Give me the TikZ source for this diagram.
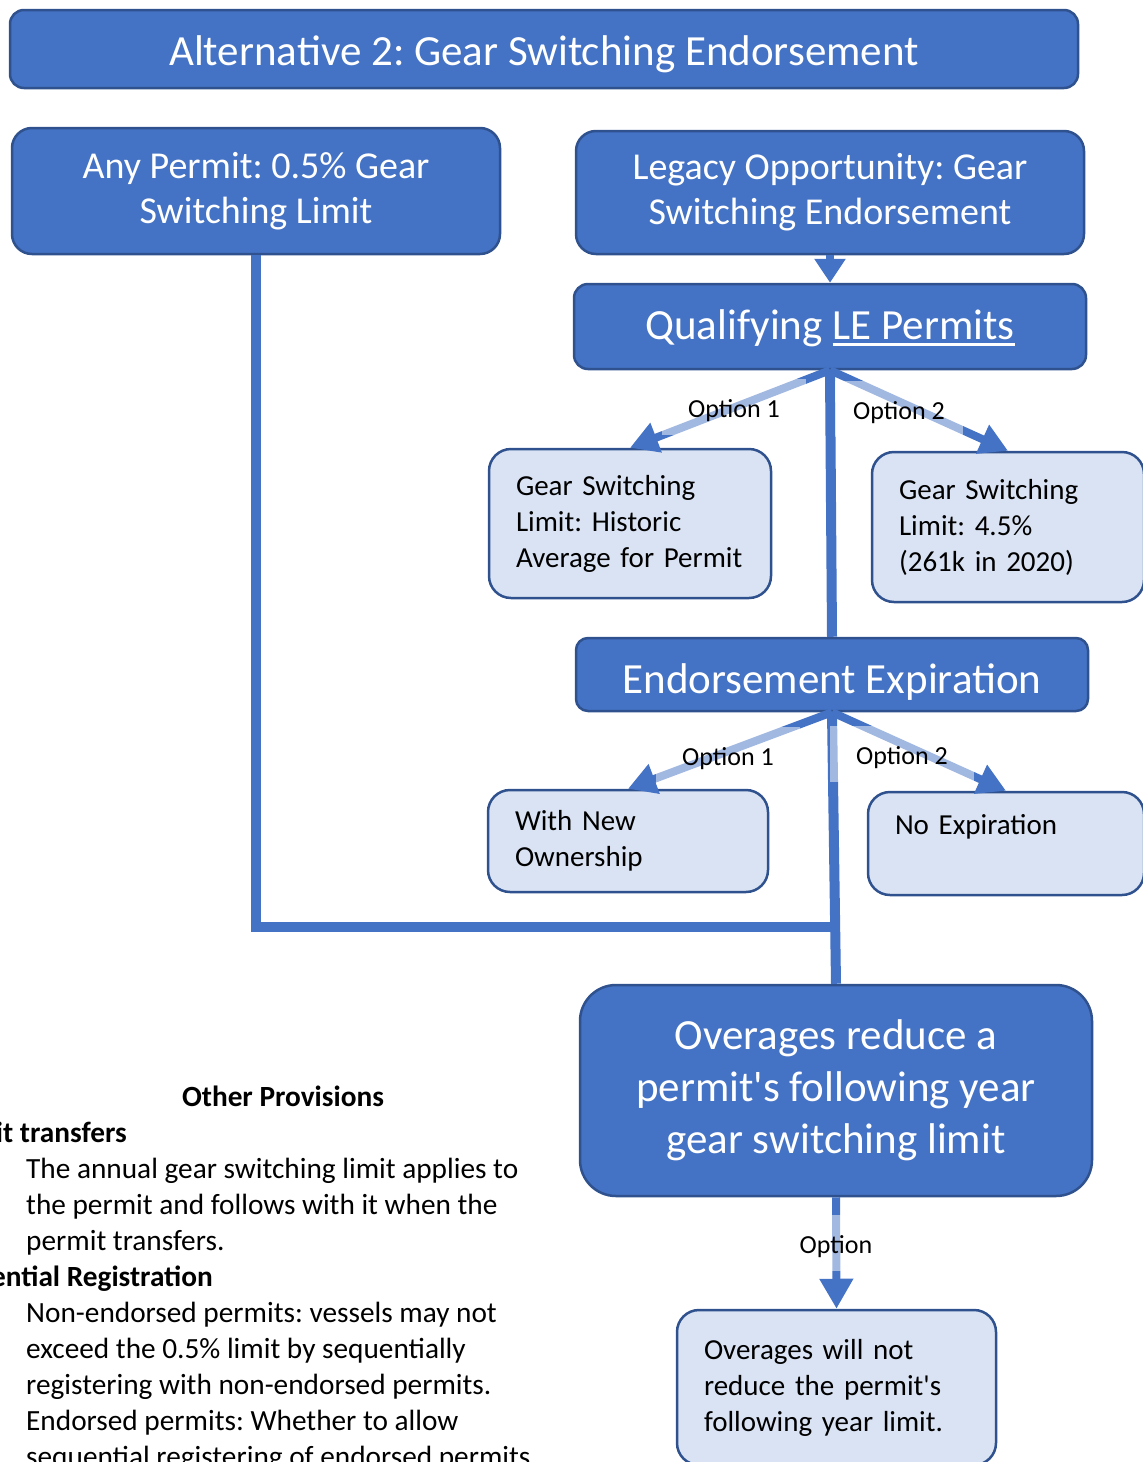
\documentclass[tikz,border=0pt]{standalone}
\usepackage{fontspec}
\setmainfont{Carlito}
\usetikzlibrary{arrows.meta}
\definecolor{boxblue}{HTML}{4472C4}
\definecolor{boxedge}{HTML}{2F528F}
\definecolor{boxlight}{HTML}{DAE3F3}
\newsavebox{\ulbox}
\newcommand{\lineunder}[1]{\sbox{\ulbox}{#1}\rlap{\rule[-6.5pt]{\wd\ulbox}{2.5pt}}\usebox{\ulbox}}
\frenchspacing

\begin{document}
\begin{tikzpicture}[
		x=1pt, y=-1pt,
		darkbox/.style	={ draw=boxedge, fill=boxblue, text=white,
			line width=2.5pt, rounded corners=14pt,
			inner sep=0pt, align=center,
			font=\fontsize{38}{45}\selectfont
		},
		bigtext/.style	={ font=\fontsize{43}{52}\selectfont },
		lightbox/.style	={ draw=boxedge, fill=boxlight, text=black,
			line width=2.5pt, rounded corners=22pt,
			inner xsep=27pt, inner ysep=0pt, align=left,
			font=\fontsize{29}{36}\selectfont
		},
		trunk/.style		={ draw=boxblue, line width=10pt },
		option/.style		={ draw=boxblue, line width=8pt,
			-{Triangle[length=28pt, width=30pt]}
		},
		optlabel/.style	={ fill=white, fill opacity=0.5, text opacity=1,
			inner xsep=26pt, inner ysep=8pt,
			text height=30pt, text depth=10pt,
			font=\fontsize{26}{30}\selectfont
		},
		provision/.style	={ inner sep=0pt, font=\fontsize{29.3}{36}\selectfont },
		provhead/.style	={ inner sep=0pt, font=\fontsize{29.3}{36}\selectfont\bfseries },
	]

	\useasboundingbox (0,0) rectangle (1143,1462);
	\clip (0,0) rectangle (1143,1462);

	\def\provlist{	1/1178/The annual gear switching limit applies to,
									2/1214/the permit and follows with it when the,
									3/1250/permit transfers.,
									4/1322/Non-endorsed permits: vessels may not,
									5/1358/exceed the 0.5\% limit by sequentially,
									6/1394/registering with non-endorsed permits.,
									7/1430/Endorsed permits: Whether to allow,
									8/1466/sequential registering of endorsed permits}

	% draw dark boxes
	\node (title) [darkbox, bigtext, minimum width=1068pt, minimum height=78pt,
		text height=32pt, text depth=0pt] at (544,49)
		{Alternative 2: Gear Switching Endorsement};
	\node (anyp) [darkbox, rounded corners=20pt, minimum width=488pt, minimum height=126pt]
		at (256,191) {Any Permit: 0.5\% Gear\\Switching Limit};
	\node (legacy) [darkbox, rounded corners=20pt, minimum width=508pt, minimum height=123pt]
		at (830,192.5) {Legacy Opportunity: Gear\\Switching Endorsement};
	\node (qual) [darkbox, bigtext, minimum width=512pt, minimum height=85pt,
		text height=25pt, text depth=0pt] at (830,326.5)
		{Qualifying \lineunder{LE Permits}};
	\node (expir) [darkbox, bigtext, rounded corners=12pt, minimum width=512pt, minimum height=73pt,
		text height=37pt, text depth=0pt] at (832,674.5)
		{Endorsement Expiration};
	\node (over) [darkbox, bigtext, rounded corners=36pt, minimum width=512pt, minimum height=211pt]
		at (836,1090.5) {Overages reduce a\\permit\textquotesingle s following year\\gear switching limit};

	% draw light boxes
	\node (hist) [lightbox, text width=228pt, minimum height=149pt] at (630,523.5)
		{Gear Switching\\Limit: Historic\\Average for Permit};
	\node (pct) [lightbox, text width=218pt, minimum height=150pt] at (1008,527)
		{Gear Switching\\Limit: 4.5\%\\(261k in 2020)};
	\node (newown) [lightbox, text width=226pt, minimum height=102pt] at (628,841)
		{With New\\Ownership};
	\node (noexp) [lightbox, text width=222pt, minimum height=103pt,
		text height=0pt, text depth=19pt] at (1006,843.5) {No Expiration};
	\node (notred) [lightbox, text width=265pt, minimum height=155pt] at (836.5,1387.5)
		{Overages will not\\reduce the permit\textquotesingle s\\following year limit.};

	% draw trunk lines
	\coordinate (join) at (835,927);
	\draw [trunk] (anyp.south) |- (join);
	\draw [trunk] (qual.south) -- (expir.north);
	\draw [trunk] (expir.south) -- (over.north);

	% draw option arrows
	\draw [option, -{Triangle[length=24pt, width=30pt]}] (legacy.south) -- (qual.north);
	\draw [option] (qual.south) -- (hist.north);
	\draw [option] (qual.south) -- (pct.north);
	\draw [option] (expir.south) -- (newown.north);
	\draw [option] (expir.south) -- (noexp.north);
	\draw [option, -{Triangle[length=30pt, width=32pt]}] (over.south) -- (notred.north);

	% option labels
	\node (qopt1) [optlabel] at (734,407) {Option 1};
	\node (qopt2) [optlabel, inner xsep=18pt] at (899,409) {Option 2};
	\node (eopt1) [optlabel] at (728,755) {Option 1};
	\node (eopt2) [optlabel] at (902,754) {Option 2};
	\node (lastopt) [optlabel] at (836,1243) {Option};

	% other provisions
	\node (provtitle) [provhead, anchor=base] at (283,1106) {Other Provisions};
	\node (transhead) [provhead, anchor=base east] at (127,1142) {Permit transfers};
	\node (seqhead) [provhead, anchor=base east] at (213,1286) {Sequential Registration};
	\foreach \name/\py/\txt in \provlist {
			\node (prov\name) [provision, anchor=base west] at (26,\py) {\txt};
		}

\end{tikzpicture}
\end{document}
